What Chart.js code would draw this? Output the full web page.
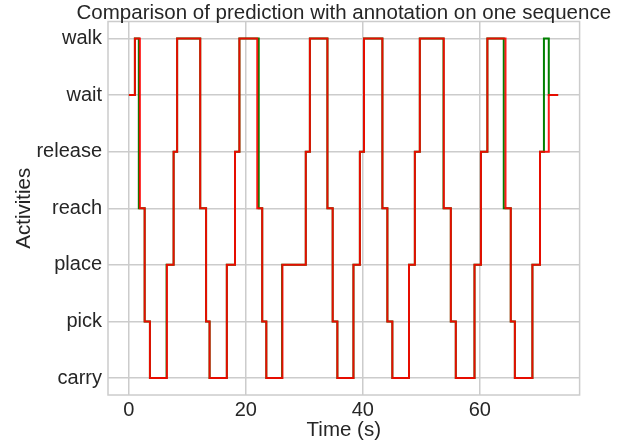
<!DOCTYPE html>
<html>
<head>
<meta charset="utf-8">
<script src="https://cdn.jsdelivr.net/npm/chart.js@4.4.1/dist/chart.umd.min.js"></script>
<style>
  html, body { margin: 0; padding: 0; background: #fff; }
  #wrap { width: 629px; height: 444px; }
</style>
</head>
<body>
<div id="wrap"><canvas id="seqChart" width="629" height="444"></canvas></div>
<script>
// activities on the y axis (bottom to top)
const activities = ['carry', 'pick', 'place', 'reach', 'release', 'wait', 'walk'];
const xTicks = [0, 20, 40, 60];

// prediction: time (s) where each state starts, last entry is the end of the sequence
const predTimes = [0.0, 1.03, 1.88, 2.7, 3.6, 6.5, 7.65,
    8.25, 12.2, 13.2, 13.8, 16.75, 18.15,
    18.9, 21.95, 22.8, 23.5, 26.25, 30.25,
    30.95, 33.95, 34.85, 35.65, 38.4, 39.5,
    40.2, 43.35, 44.2, 45.05, 47.9, 48.9,
    49.75, 53.85, 55.05, 55.9, 59.1, 60.2,
    61.3, 64.4, 65.3, 66.0, 69.0, 70.3,
    71.8, 73.4];
const predStates = ['wait', 'walk', 'reach', 'pick', 'carry', 'place', 'release',
    'walk', 'reach', 'pick', 'carry', 'place', 'release',
    'walk', 'reach', 'pick', 'carry', 'place', 'release',
    'walk', 'reach', 'pick', 'carry', 'place', 'release',
    'walk', 'reach', 'pick', 'carry', 'place', 'release',
    'walk', 'reach', 'pick', 'carry', 'place', 'release',
    'walk', 'reach', 'pick', 'carry', 'place', 'release',
    'wait', 'wait'];

// annotation (ground truth)
const annoTimes = [0.0, 1.03, 1.7, 2.7, 3.6, 6.45, 7.65,
    8.25, 12.2, 13.2, 13.8, 16.75, 18.15,
    18.9, 22.2, 22.8, 23.5, 26.2, 30.25,
    30.95, 33.95, 34.85, 35.65, 38.4, 39.5,
    40.2, 43.35, 44.2, 45.05, 47.9, 48.9,
    49.75, 53.8, 55.05, 55.9, 59.1, 60.2,
    61.3, 64.1, 65.3, 66.0, 69.0, 70.3,
    70.97, 71.8, 73.4];
const annoStates = ['wait', 'walk', 'reach', 'pick', 'carry', 'place', 'release',
    'walk', 'reach', 'pick', 'carry', 'place', 'release',
    'walk', 'reach', 'pick', 'carry', 'place', 'release',
    'walk', 'reach', 'pick', 'carry', 'place', 'release',
    'walk', 'reach', 'pick', 'carry', 'place', 'release',
    'walk', 'reach', 'pick', 'carry', 'place', 'release',
    'walk', 'reach', 'pick', 'carry', 'place', 'release',
    'walk', 'wait', 'wait'];

const chartTitle = 'Comparison of prediction with annotation on one sequence';

const toPoints = (times, states) => times.map((t, i) => ({ x: t, y: activities.indexOf(states[i]) }));

const textColor = '#262626';
const gridColor = '#cccccc';
const fontFamily = "'Liberation Sans', Arial, sans-serif";

// light grey frame on all four sides + title centred over the plot area
const frame = {
    id: 'frame',
    beforeDatasetsDraw(chart) {
        const { ctx, chartArea: a } = chart;
        ctx.save();
        ctx.strokeStyle = gridColor;
        ctx.lineWidth = 1.5;
        ctx.strokeRect(a.left, a.top, a.right - a.left, a.bottom - a.top);
        ctx.restore();
    },
    afterDraw(chart) {
        const { ctx, chartArea: a } = chart;
        ctx.save();
        ctx.fillStyle = textColor;
        ctx.font = '20.5px ' + fontFamily;
        ctx.textAlign = 'center';
        ctx.textBaseline = 'alphabetic';
        ctx.fillText(chartTitle, (a.left + a.right) / 2, 19);
        ctx.restore();
    }
};

new Chart(document.getElementById('seqChart'), {
    type: 'line',
    data: {
        datasets: [{
            label: 'prediction',
            data: toPoints(predTimes, predStates),
            borderColor: 'rgba(255, 0, 0, 0.9)',
            borderWidth: 2,
            pointRadius: 0,
            stepped: true,
            order: 0
        }, {
            label: 'annotation',
            data: toPoints(annoTimes, annoStates),
            borderColor: 'green',
            borderWidth: 2,
            pointRadius: 0,
            stepped: true,
            order: 1
        }]
    },
    options: {
        responsive: false,
        animation: false,
        layout: { padding: { left: 0, right: 49.4, top: 21.5, bottom: 0 } },
        plugins: {
            legend: { display: false },
            tooltip: { enabled: false },
            title: { display: false }
        },
        scales: {
            x: {
                type: 'linear',
                min: -3.57,
                max: 77.07,
                afterFit: scale => { scale.height = 49; },
                afterBuildTicks: scale => { scale.ticks = xTicks.map(v => ({ value: v })); },
                grid: { color: gridColor, lineWidth: 1.5, drawTicks: false },
                border: { display: false },
                ticks: { color: textColor, padding: 3, font: { size: 20, family: fontFamily } },
                title: {
                    display: true,
                    text: 'Time (s)',
                    color: textColor,
                    font: { size: 20.5, family: fontFamily },
                    padding: { top: 0, bottom: 1 }
                }
            },
            y: {
                type: 'linear',
                min: -0.3,
                max: 6.3,
                afterFit: scale => { scale.width = 108; },
                afterBuildTicks: scale => { scale.ticks = activities.map((_, i) => ({ value: i })); },
                grid: { color: gridColor, lineWidth: 1.5, drawTicks: false },
                border: { display: false },
                ticks: {
                    color: textColor,
                    padding: 6,
                    font: { size: 20, family: fontFamily },
                    callback: v => activities[v]
                },
                title: {
                    display: true,
                    text: 'Activities',
                    color: textColor,
                    font: { size: 20.5, family: fontFamily },
                    padding: { top: 12, bottom: 0 }
                }
            }
        }
    },
    plugins: [frame]
});
</script>
</body>
</html>
